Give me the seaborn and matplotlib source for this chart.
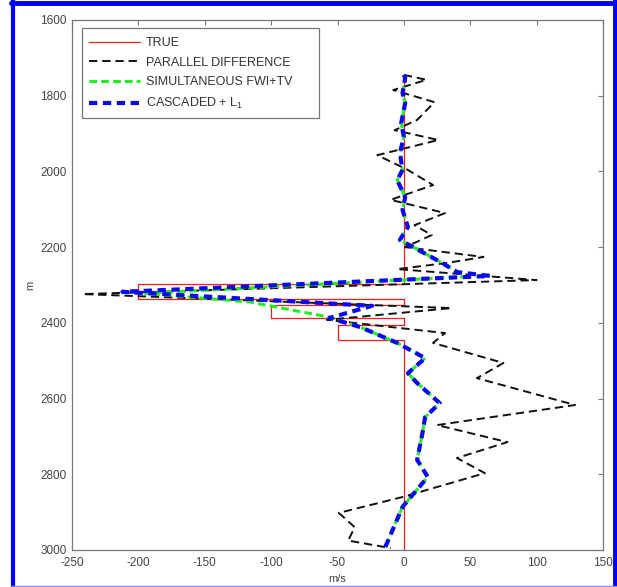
import matplotlib
matplotlib.use("Agg")
import matplotlib.pyplot as plt
from matplotlib.lines import Line2D
from matplotlib.patches import Rectangle
import seaborn as sns
import pandas as pd

# ---------------- data ----------------
true_depth = [1745, 2297, 2297, 2337, 2337, 2353, 2353, 2387, 2387, 2405, 2405, 2445, 2445, 3000]
true_vel = [0, 0, -200, -200, 0, 0, -100, -100, 0, 0, -50, -50, 0, 0]

par_depth = [1745, 1758, 1785, 1817, 1864, 1891, 1917, 1957, 1996, 2036, 2075, 2110, 2142,
             2168, 2200, 2226, 2242, 2258, 2287, 2324, 2361, 2392, 2427, 2453, 2506, 2546,
             2617, 2670, 2715, 2757, 2797, 2860, 2902, 2940, 2975, 2995]
par_vel = [0, 17, -8, 23, 10, -7, 26, -20, 3, 22, -10, 31, 8,
           21, 1, 60, 32, -5, 100, -242, 36, -58, 31, 22, 75, 55,
           129, 25, 78, 40, 61, -1, -49, -37, -42, -10]

sim_depth = [1745, 1753, 1793, 1819, 1872, 1909, 1951, 1996, 2023, 2068, 2102, 2147, 2181,
             2242, 2260, 2278, 2322, 2345, 2385, 2411, 2453, 2493, 2533, 2559, 2612, 2649,
             2691, 2762, 2807, 2886, 2992]
sim_vel = [0, 1, -1, 1, -2, 0, -3, -1, -5, 1, -1, 3, -3,
           29, 38, 47, -195, -116, -56, -33, -5, 16, 3, 10, 27, 16,
           14, 10, 18, -1, -14]

cas_depth = [1745, 1753, 1793, 1819, 1872, 1909, 1951, 1996, 2023, 2068, 2102, 2147, 2181,
             2242, 2266, 2276, 2318, 2355, 2387, 2411, 2453, 2493, 2533, 2559, 2612, 2649,
             2691, 2762, 2807, 2886, 2992]
cas_vel = [0, 1, -1, 1, -2, 0, -3, -1, -5, 1, -1, 3, -3,
           29, 40, 65, -212, -24, -56, -33, -5, 16, 3, 10, 27, 16,
           14, 10, 18, -1, -14]

labels = ["TRUE", "PARALLEL DIFFERENCE", "SIMULTANEOUS FWI+TV", "CASCADED + L$_1$"]
x_ticks = [-250, -200, -150, -100, -50, 0, 50, 100, 150]
y_ticks = [1600, 1800, 2000, 2200, 2400, 2600, 2800, 3000]

# ---------------- style ----------------
sns.set_style("white")
plt.rcParams["font.family"] = ["Liberation Sans", "DejaVu Sans"]
plt.rcParams["lines.scale_dashes"] = False
plt.rcParams["mathtext.fontset"] = "custom"
plt.rcParams["mathtext.rm"] = "Liberation Sans"
plt.rcParams["mathtext.it"] = "Liberation Sans"

W, H = 617, 587
fig = plt.figure(figsize=(W / 100, H / 100), dpi=100)
fig.patch.set_facecolor("white")
ax = fig.add_axes([72 / W, 1 - 550 / H, (603 - 72) / W, (550 - 20) / H])

series = [
    (true_vel, true_depth, labels[0], "#ff1a1a", 0.9, "-"),
    (par_vel, par_depth, labels[1], "#111111", 1.4, (0, (6, 3.5))),
    (sim_vel, sim_depth, labels[2], "#22ee22", 2.2, (0, (5.5, 3))),
    (cas_vel, cas_depth, labels[3], "#0a0aee", 3.0, (0, (6, 4))),
]
for xv, yv, lab, col, lw, ls in series:
    df = pd.DataFrame({"v": xv, "d": yv})
    sns.lineplot(data=df, x="v", y="d", sort=False, estimator=None, ax=ax,
                 color=col, linewidth=lw, linestyle=ls, label=lab)

ax.set_xlim(-250, 150)
ax.set_ylim(3000, 1600)
ax.set_xticks(x_ticks)
ax.set_yticks(y_ticks)
ax.set_xticklabels([str(t) for t in x_ticks])
ax.set_yticklabels([str(t) for t in y_ticks])
ax.tick_params(direction="in", length=3.6, width=0.8, color="#777777",
               top=True, right=True, labelsize=8.5, labelcolor="#444444")
ax.tick_params(axis="x", pad=5)
ax.tick_params(axis="y", pad=4)
for s in ax.spines.values():
    s.set_color("#777777")
    s.set_linewidth(0.9)
ax.set_xlabel("m/s", fontsize=8, color="#444444", labelpad=4)
ax.set_ylabel("m", fontsize=8, color="#444444", labelpad=3)

# legend frame (drawn separately so its padding matches the reference)
frame = Rectangle((0.0188, 0.815), 0.4462, 0.170, transform=ax.transAxes,
                  facecolor="white", edgecolor="#777777", linewidth=0.9, zorder=4)
ax.add_patch(frame)
leg = ax.legend(loc="upper left", bbox_to_anchor=(0.0188, 0.981), borderaxespad=0,
                fontsize=9, frameon=False, handlelength=4.1,
                handletextpad=0.45, labelspacing=0.62, borderpad=0.55)
leg.set_zorder(5)
for t in leg.get_texts():
    t.set_color("#333333")

# blue frame around the figure
fig.add_artist(Line2D([13 / W, 13 / W], [0, 1], color="#0000ff", lw=3, transform=fig.transFigure))
fig.add_artist(Line2D([614.5 / W, 614.5 / W], [0, 1], color="#0000ff", lw=3.5, transform=fig.transFigure))
fig.add_artist(Line2D([11 / W, 1], [1 - 2.5 / H, 1 - 2.5 / H], color="#0000ff", lw=3.5, transform=fig.transFigure))
fig.add_artist(Line2D([11 / W, 1], [1 - 586 / H, 1 - 586 / H], color="#8888ff", lw=1, transform=fig.transFigure))

fig.savefig("out.png", dpi=100)
